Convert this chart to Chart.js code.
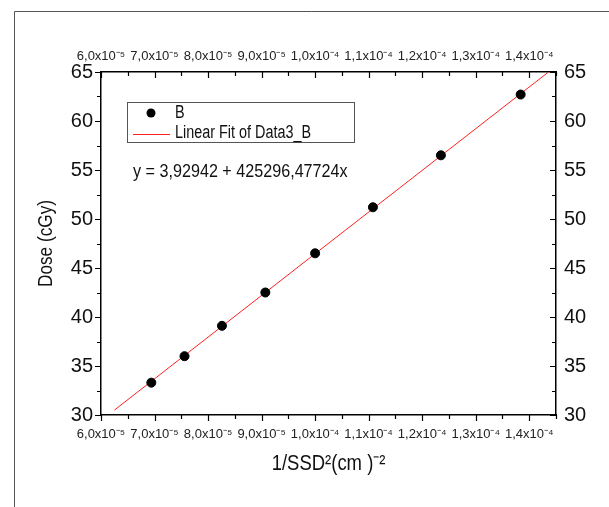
<!DOCTYPE html>
<html><head><meta charset="utf-8">
<script src="https://cdn.jsdelivr.net/npm/chart.js@4"></script>
<style>html,body{margin:0;padding:0;background:#fff}#wrap{width:609px;height:507px;position:relative}</style>
</head><body><div id="wrap"><canvas id="c" width="609" height="507"></canvas></div>
<script>
// ---- data ----
const invSsd2 = [6.94e-5, 7.56e-5, 8.26e-5, 9.07e-5, 1.0e-4, 1.108e-4, 1.235e-4, 1.384e-4];
const dose = [33.3, 36.0, 39.1, 42.5, 46.5, 51.2, 56.5, 62.7];
const fitX = [6.25e-5, 1.436e-4];
const fitY = [30.5, 65.0];
const xTickValues = [6e-5, 7e-5, 8e-5, 9e-5, 1.0e-4, 1.1e-4, 1.2e-4, 1.3e-4, 1.4e-4];
const xTickLabels = ['6,0x10⁻⁵','7,0x10⁻⁵','8,0x10⁻⁵','9,0x10⁻⁵','1,0x10⁻⁴','1,1x10⁻⁴','1,2x10⁻⁴','1,3x10⁻⁴','1,4x10⁻⁴'];
const yTickValues = [30, 35, 40, 45, 50, 55, 60, 65];
const yTickLabels = ['30','35','40','45','50','55','60','65'];
const seriesLabel = 'B';
const fitLabel = 'Linear Fit of Data3_B';
const equationText = 'y = 3,92942 + 425296,47724x';
const xTitle = '1/SSD²(cm )⁻²';
const yTitle = 'Dose (cGy)';

const REG = "'Liberation Sans', Arial, sans-serif";

function labelFor(values, labels, v){
  for (let i=0;i<values.length;i++){ if (Math.abs(values[i]-v) <= Math.abs(values[i])*1e-6) return labels[i]; }
  return '';
}
function setTicks(values){ return s => { s.ticks = values.map(v => ({value: v})); }; }

// draw horizontally condensed text (reference uses a narrow face)
function condensedText(ctx, text, x, y, size, squeeze, align, rot){
  ctx.save();
  ctx.translate(x, y);
  if (rot) ctx.rotate(rot);
  ctx.scale(squeeze, 1);
  ctx.font = size + "px " + REG;
  ctx.textAlign = align; ctx.textBaseline = 'middle';
  ctx.fillStyle = '#111';
  ctx.fillText(text, 0, 0);
  ctx.restore();
}

const xCommon = {
  type: 'linear', min: 6e-5, max: 1.45e-4,
  grid: {display: false, drawTicks: false},
  border: {display: true, color: '#000', width: 1.5},
  afterBuildTicks: setTicks(xTickValues),
  ticks: {callback: v => labelFor(xTickValues, xTickLabels, v), color: '#222', font: {family: REG, size: 13}, maxRotation: 0, autoSkip: false}
};
const yCommon = {
  type: 'linear', min: 30, max: 65,
  grid: {display: false, drawTicks: false},
  border: {display: true, color: '#000', width: 1.5},
  afterBuildTicks: setTicks(yTickValues),
  ticks: {callback: v => labelFor(yTickValues, yTickLabels, v), color: '#111', font: {family: REG, size: 20}, autoSkip: false}
};

const decor = {
  id: 'decor',
  beforeDraw(chart){
    const ctx = chart.ctx;
    ctx.save();
    ctx.fillStyle = '#fff'; ctx.fillRect(0,0,chart.width,chart.height);
    ctx.strokeStyle = '#555'; ctx.lineWidth = 1;
    ctx.beginPath(); ctx.moveTo(14.5, chart.height); ctx.lineTo(14.5, 11.5); ctx.lineTo(chart.width, 11.5); ctx.stroke();
    ctx.restore();
  },
  afterDraw(chart){
    const ctx = chart.ctx, a = chart.chartArea, sc = chart.scales;
    ctx.save();
    ctx.strokeStyle = '#000'; ctx.lineWidth = 1.2;
    const minorX = []; for (let i=0;i<xTickValues.length;i++){ minorX.push(xTickValues[i] + (xTickValues[1]-xTickValues[0])/2); }
    const minorY = []; for (let i=0;i<yTickValues.length-1;i++){ minorY.push((yTickValues[i]+yTickValues[i+1])/2); }
    ctx.beginPath();
    xTickValues.forEach(v => { const p = Math.round(sc.x.getPixelForValue(v))+0.5;
      ctx.moveTo(p, a.bottom); ctx.lineTo(p, a.bottom+6);
      ctx.moveTo(p, a.top); ctx.lineTo(p, a.top+6); });
    minorX.forEach(v => { const p = Math.round(sc.x.getPixelForValue(v))+0.5;
      ctx.moveTo(p, a.bottom); ctx.lineTo(p, a.bottom+4);
      ctx.moveTo(p, a.top); ctx.lineTo(p, a.top+4); });
    yTickValues.forEach(v => { const p = Math.round(sc.y.getPixelForValue(v))+0.5;
      ctx.moveTo(a.left, p); ctx.lineTo(a.left-6, p);
      ctx.moveTo(a.right, p); ctx.lineTo(a.right-6, p); });
    minorY.forEach(v => { const p = Math.round(sc.y.getPixelForValue(v))+0.5;
      ctx.moveTo(a.left, p); ctx.lineTo(a.left-4, p);
      ctx.moveTo(a.right, p); ctx.lineTo(a.right-4, p); });
    ctx.stroke();

    // axis titles
    condensedText(ctx, yTitle, 46, (a.top + a.bottom)/2, 21, 0.82, 'center', -Math.PI/2);
    condensedText(ctx, xTitle, (a.left + a.right)/2, 464, 22, 0.84, 'center', 0);

    // legend box
    const ds = chart.data.datasets;
    ctx.strokeStyle = '#555'; ctx.lineWidth = 1;
    ctx.strokeRect(127.5, 102.5, 227, 40);
    ctx.fillStyle = ds[0].backgroundColor;
    ctx.beginPath(); ctx.arc(151, 113, 4.5, 0, Math.PI*2); ctx.fill();
    ctx.strokeStyle = ds[1].borderColor; ctx.lineWidth = 1;
    ctx.beginPath(); ctx.moveTo(133, 134.5); ctx.lineTo(170, 134.5); ctx.stroke();
    condensedText(ctx, ds[0].label, 175, 113, 18, 0.8, 'left', 0);
    condensedText(ctx, ds[1].label, 175, 133, 18, 0.8, 'left', 0);
    condensedText(ctx, equationText, 133, 172, 19, 0.85, 'left', 0);
    ctx.restore();
  }
};

new Chart(document.getElementById('c'), {
  type: 'scatter',
  data: {
    datasets: [
      {label: seriesLabel, data: invSsd2.map((x,i)=>({x, y: dose[i]})), backgroundColor: '#000', borderColor: '#000', pointRadius: 4.5, pointHoverRadius: 4.5, xAxisID: 'x', yAxisID: 'y', order: 0},
      {label: fitLabel, data: fitX.map((x,i)=>({x, y: fitY[i]})), showLine: true, borderColor: '#ff2020', borderWidth: 1, pointRadius: 0, xAxisID: 'x', yAxisID: 'y', order: 1}
    ]
  },
  options: {
    responsive: false, animation: false, devicePixelRatio: 1,
    layout: {padding: 0},
    plugins: {legend: {display: false}, tooltip: {enabled: false}},
    scales: {
      x: Object.assign({}, xCommon, {position: 'bottom',
        ticks: Object.assign({}, xCommon.ticks, {padding: 12}),
        afterFit: s => { s.height = 92; }}),
      x2: Object.assign({}, xCommon, {position: 'top',
        ticks: Object.assign({}, xCommon.ticks, {padding: 8}),
        afterFit: s => { s.height = 72; }}),
      y: Object.assign({}, yCommon, {position: 'left',
        ticks: Object.assign({}, yCommon.ticks, {padding: 8}),
        afterFit: s => { s.width = 101; }}),
      y2: Object.assign({}, yCommon, {position: 'right',
        ticks: Object.assign({}, yCommon.ticks, {padding: 8}),
        afterFit: s => { s.width = 53; }})
    }
  },
  plugins: [decor]
});
</script></body></html>
